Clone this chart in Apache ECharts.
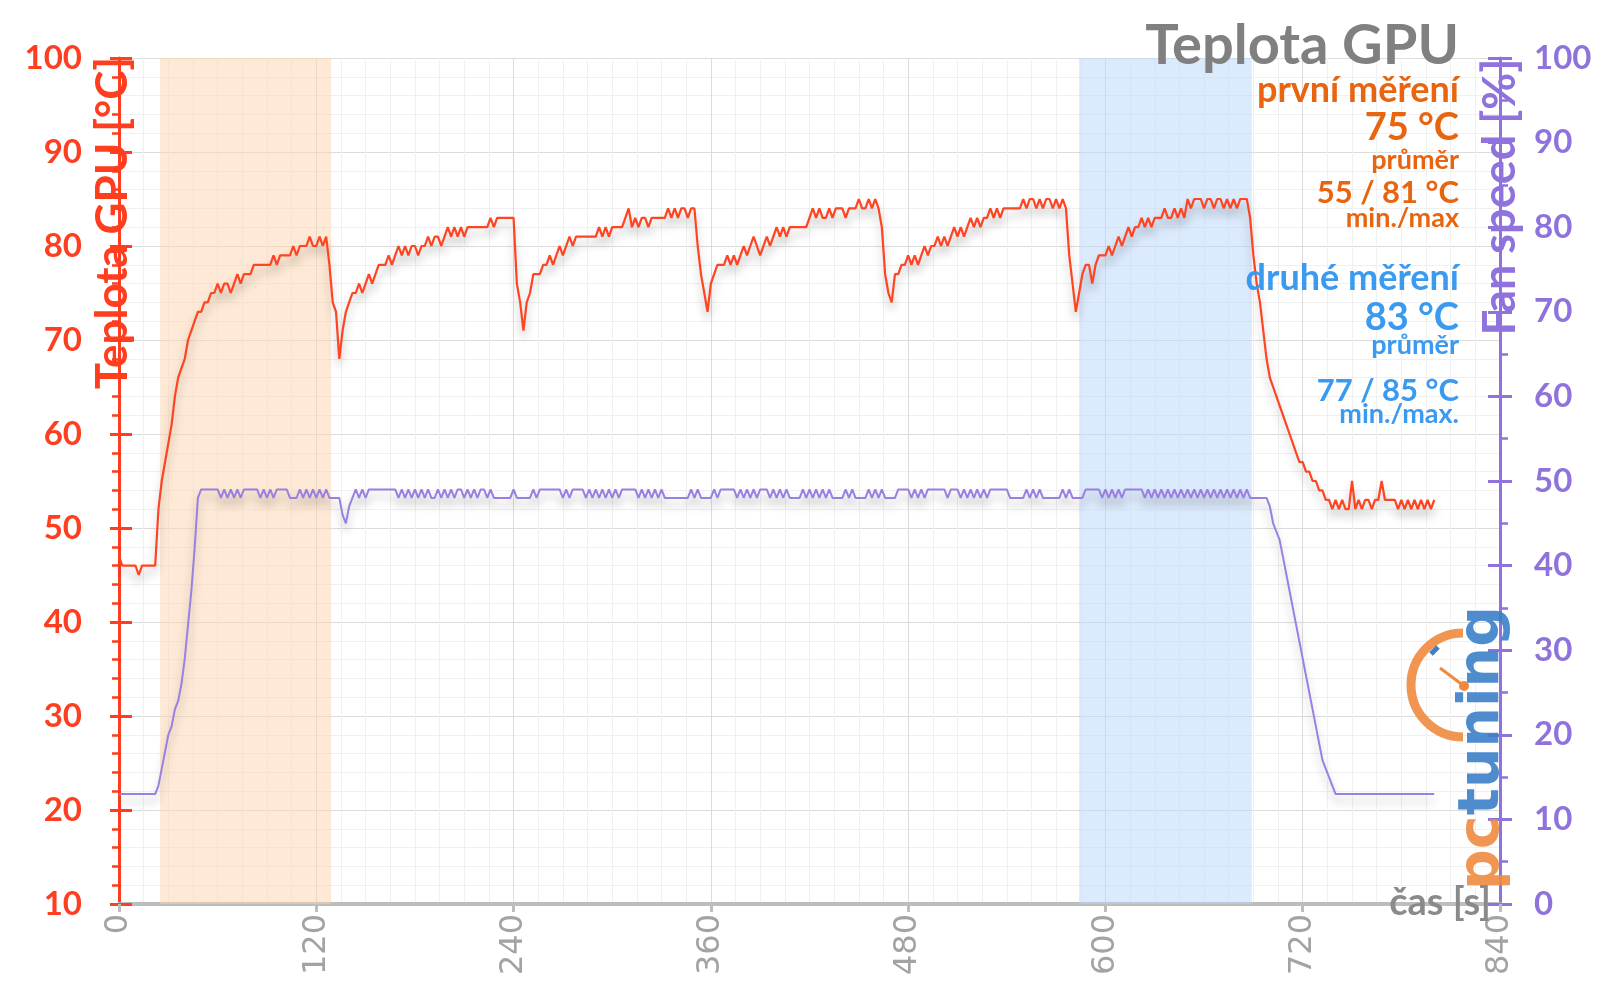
<!DOCTYPE html>
<html><head><meta charset="utf-8">
<script src="https://cdn.jsdelivr.net/npm/echarts@6/dist/echarts.min.js"></script>
<style>html,body{margin:0;padding:0;background:#fff}#c{width:1600px;height:999px}</style>
</head><body><div id="c"></div><script>
// ---- data ----
const sampleStep = 2; // seconds between samples, first sample at t = 0 s
const xTickStep = 120;
const xMax = 840;
// GPU temperature [°C], one value every 2 s (rows of 20 s)
const tempGPU = [
  47,46,46,46,46,46,45,46,46,46,  // 0
  46,46,52,55,57,59,61,64,66,67,  // 20
  68,70,71,72,73,73,74,74,75,75,  // 40
  76,75,76,76,75,76,77,76,77,77,  // 60
  77,78,78,78,78,78,78,79,78,79,  // 80
  79,79,79,80,79,80,80,80,81,80,  // 100
  80,81,80,81,78,74,73,68,71,73,  // 120
  74,75,75,76,75,76,77,76,77,78,  // 140
  78,78,79,78,79,80,79,80,79,80,  // 160
  80,79,80,80,81,80,81,81,80,81,  // 180
  82,81,82,81,82,81,82,82,82,82,  // 200
  82,82,82,83,82,83,83,83,83,83,  // 220
  83,76,74,71,74,75,77,77,77,78,  // 240
  78,79,78,79,80,79,80,81,80,81,  // 260
  81,81,81,81,81,81,82,81,82,81,  // 280
  82,82,82,82,83,84,82,83,82,83,  // 300
  83,82,83,83,83,83,83,84,83,84,  // 320
  83,84,84,83,84,84,80,77,75,73,  // 340
  76,77,78,78,78,79,78,79,78,79,  // 360
  80,79,80,81,80,79,80,81,80,81,  // 380
  82,81,82,81,82,82,82,82,82,82,  // 400
  83,84,83,84,83,83,84,83,84,84,  // 420
  84,83,84,84,84,85,84,84,85,84,  // 440
  85,84,82,77,75,74,77,77,78,78,  // 460
  79,78,79,78,79,80,79,80,80,81,  // 480
  80,81,80,81,82,81,82,81,82,83,  // 500
  82,83,82,83,83,84,83,84,83,84,  // 520
  84,84,84,84,84,85,84,85,85,84,  // 540
  85,84,85,85,84,85,84,85,84,79,  // 560
  76,73,75,77,78,78,76,78,79,79,  // 580
  79,80,79,80,81,80,81,82,81,82,  // 600
  82,83,82,83,82,83,83,83,84,83,  // 620
  83,84,83,84,83,85,84,85,85,85,  // 640
  84,85,85,84,85,85,84,85,84,85,  // 660
  84,85,85,85,83,79,76,74,71,68,  // 680
  66,65,64,63,62,61,60,59,58,57,  // 700
  57,56,56,55,55,54,54,53,53,52,  // 720
  53,52,53,52,52,55,52,53,52,53,  // 740
  53,52,53,53,55,53,53,53,53,52,  // 760
  53,52,53,52,53,52,53,52,53,52,  // 780
  53                              // 800
];
// Fan speed [%], one value every 2 s
const fanSpeed = [
  13,13,13,13,13,13,13,13,13,13,  // 0
  13,13,14,16,18,20,21,23,24,26,  // 20
  29,33,37,42,48,49,49,49,49,49,  // 40
  49,48,49,48,49,48,49,48,49,49,  // 60
  49,49,49,48,49,48,49,48,49,49,  // 80
  49,49,48,48,48,49,48,49,48,49,  // 100
  48,49,48,49,48,48,48,48,46,45,  // 120
  47,48,49,48,49,48,49,49,49,49,  // 140
  49,49,49,49,49,48,49,48,49,48,  // 160
  49,48,49,48,49,48,48,49,48,49,  // 180
  48,49,48,49,49,48,49,48,49,48,  // 200
  49,49,48,49,48,48,48,48,48,48,  // 220
  49,48,48,48,48,48,49,48,49,49,  // 240
  49,49,49,49,49,48,49,48,49,49,  // 260
  49,49,48,49,48,49,48,49,48,49,  // 280
  48,49,48,49,49,49,49,49,48,49,  // 300
  48,49,48,49,48,49,48,48,48,48,  // 320
  48,48,48,48,49,48,49,48,48,48,  // 340
  48,49,48,49,49,49,49,49,48,49,  // 360
  48,49,48,49,48,49,49,49,48,49,  // 380
  48,49,48,49,48,48,48,48,49,48,  // 400
  49,48,49,48,49,48,49,48,48,48,  // 420
  48,49,48,49,48,48,48,48,49,48,  // 440
  49,48,49,48,48,48,48,49,49,49,  // 460
  49,48,49,48,49,48,49,49,49,49,  // 480
  49,49,48,49,49,49,48,49,48,49,  // 500
  48,49,48,49,48,49,49,49,49,49,  // 520
  49,48,48,48,48,48,49,48,49,48,  // 540
  49,48,48,48,48,48,48,49,48,49,  // 560
  48,48,48,48,49,49,49,49,49,48,  // 580
  49,48,49,48,49,48,49,49,49,49,  // 600
  49,49,48,49,48,49,48,49,48,49,  // 620
  48,49,48,49,48,49,48,49,48,49,  // 640
  48,49,48,49,48,49,48,49,48,49,  // 660
  48,49,48,49,48,48,48,48,48,48,  // 680
  47,45,44,43,41,39,37,35,33,31,  // 700
  29,27,25,23,21,19,17,16,15,14,  // 720
  13,13,13,13,13,13,13,13,13,13,  // 740
  13,13,13,13,13,13,13,13,13,13,  // 760
  13,13,13,13,13,13,13,13,13,13,  // 780
  13                              // 800
];
const firstRun = [25, 129];   // s, orange band
const secondRun = [584, 689]; // s, blue band
const titleText = 'Teplota GPU';
const firstLabels = ['první měření', '75 °C', 'průměr', '55 / 81 °C', 'min./max'];
const secondLabels = ['druhé měření', '83 °C', 'průměr', '77 / 85 °C', 'min./max.'];
const leftAxisName = 'Teplota GPU [°C]';
const rightAxisName = 'Fan speed [%]';
const xAxisName = 'čas [s]';

// ---- styles ----
const RED = '#ff3d1f', LINE_RED = '#ff4422', PURPLE = '#8f72dc', LINE_PURPLE = '#9a80e2';
const ORANGE_T = '#e8640e', BLUE_T = '#3a9af0';
const FONT = 'Lato, "Open Sans", sans-serif';

const tempData = tempGPU.map((v, i) => [i * sampleStep, v]);
const fanData = fanSpeed.map((v, i) => [i * sampleStep, v]);

function txt(text, x, y, size, color, align, extra) {
  return Object.assign({
    type: 'text', x: x, y: y, z: 100, silent: true,
    style: {
      text: text, fill: color, font: 'bold ' + size + 'px ' + FONT,
      textAlign: align || 'right', textVerticalAlign: 'middle',
      shadowColor: 'rgba(255,255,255,0.95)', shadowBlur: 6
    }
  }, extra || {});
}

const RX = 1459;
const graphics = [
  txt(titleText, RX, 46, 56, '#808080'),
  txt(firstLabels[0], RX, 90, 36, ORANGE_T),
  txt(firstLabels[1], RX, 128, 38, ORANGE_T),
  txt(firstLabels[2], RX, 160, 27, ORANGE_T),
  txt(firstLabels[3], RX, 193, 31, ORANGE_T),
  txt(firstLabels[4], RX, 218, 27, ORANGE_T),
  txt(secondLabels[0], RX, 278, 36, BLUE_T),
  txt(secondLabels[1], RX, 318, 38, BLUE_T),
  txt(secondLabels[2], RX, 345, 27, BLUE_T),
  txt(secondLabels[3], RX, 391, 31, BLUE_T),
  txt(secondLabels[4], RX, 414, 27, BLUE_T),
  txt(leftAxisName, 113, 223, 44, RED, 'center', { rotation: Math.PI / 2 }),
  txt(rightAxisName, 1500, 197, 45, PURPLE, 'center', { rotation: Math.PI / 2 }),
  txt(xAxisName, 1491, 903, 38, '#8a8a8a', 'right'),
  // pctuning logo
  { type: 'arc', z: 90, silent: true, shape: { cx: 1463, cy: 685, r: 52, startAngle: Math.PI / 2, endAngle: Math.PI * 1.5, clockwise: true },
    style: { stroke: '#f0893f', lineWidth: 9, fill: null, opacity: 0.9 } },
  { type: 'line', z: 91, silent: true, shape: { x1: 1440, y1: 668, x2: 1464, y2: 686 }, style: { stroke: '#f0893f', lineWidth: 3 } },
  { type: 'circle', z: 91, silent: true, shape: { cx: 1464, cy: 686, r: 5 }, style: { fill: '#f0893f' } },
  { type: 'line', z: 92, silent: true, shape: { x1: 1431, y1: 654, x2: 1438, y2: 647 }, style: { stroke: '#3b7fc9', lineWidth: 5 } },
  { type: 'text', z: 92, silent: true, x: 1483, y: 748, rotation: Math.PI / 2,
    style: { text: '{a|pc}{b|tuning}', textAlign: 'center', textVerticalAlign: 'middle', opacity: 0.9,
      rich: { a: { fill: '#f0893f', font: 'bold 57px "DejaVu Sans"' }, b: { fill: '#3b7fc9', font: 'bold 57px "DejaVu Sans"' } } } }
];

const lineShadow = { shadowColor: 'rgba(0,0,0,0.28)', shadowBlur: 10, shadowOffsetY: 7 };

const option = {
  animation: false,
  backgroundColor: '#ffffff',
  grid: { left: 119, right: 100, top: 58, bottom: 95, containLabel: false },
  xAxis: {
    type: 'value', min: 0, max: xMax, interval: xTickStep,
    axisLine: { show: true, onZero: false, lineStyle: { color: '#bdbdbd', width: 4 } },
    axisTick: { show: true, length: 8, lineStyle: { color: '#bdbdbd', width: 3 } },
    minorTick: { show: false, splitNumber: 8 },
    axisLabel: { rotate: 90, color: '#a3a3a3', fontSize: 32, fontFamily: '"DejaVu Sans"', margin: 10 },
    splitLine: { show: true, lineStyle: { color: '#dcdcdc', width: 1 } },
    minorSplitLine: { show: true, lineStyle: { color: '#f0f0f0', width: 1 } }
  },
  yAxis: [
    { type: 'value', position: 'left', min: 10, max: 100, interval: 10,
      axisLine: { show: true, lineStyle: { color: RED, width: 3 } },
      axisTick: { show: true, inside: false, length: 9, lineStyle: { color: RED, width: 3 } },
      minorTick: { show: true, splitNumber: 5, length: 7, lineStyle: { color: RED, width: 2.5 } },
      axisLabel: { color: RED, fontSize: 33, fontWeight: 'bold', fontFamily: FONT, margin: 37 },
      splitLine: { show: true, lineStyle: { color: '#dcdcdc', width: 1 } },
      minorSplitLine: { show: true, lineStyle: { color: '#f0f0f0', width: 1 } } },
    { type: 'value', position: 'right', min: 0, max: 100, interval: 10,
      axisLine: { show: true, lineStyle: { color: PURPLE, width: 3 } },
      axisTick: { show: true, inside: false, length: 12, lineStyle: { color: PURPLE, width: 3 } },
      minorTick: { show: true, splitNumber: 2, length: 8, lineStyle: { color: PURPLE, width: 2.5 } },
      axisLabel: { color: PURPLE, fontSize: 33, fontWeight: 'bold', fontFamily: FONT, margin: 34 },
      splitLine: { show: false } },
    { type: 'value', position: 'left', min: 10, max: 100, interval: 10,
      axisLine: { show: false }, axisLabel: { show: false }, splitLine: { show: false },
      axisTick: { show: true, inside: true, length: 13, lineStyle: { color: RED, width: 3 } } },
    { type: 'value', position: 'right', min: 0, max: 100, interval: 10,
      axisLine: { show: false }, axisLabel: { show: false }, splitLine: { show: false },
      axisTick: { show: true, inside: true, length: 12, lineStyle: { color: PURPLE, width: 3 } } }
  ],
  series: [
    { name: 'Fan speed', type: 'line', yAxisIndex: 1, data: fanData, showSymbol: false, symbol: 'none',
      lineStyle: Object.assign({ color: LINE_PURPLE, width: 2 }, lineShadow), z: 3 },
    { name: 'Teplota GPU', type: 'line', yAxisIndex: 0, data: tempData, showSymbol: false, symbol: 'none',
      lineStyle: Object.assign({ color: LINE_RED, width: 2.2 }, lineShadow), z: 4,
      markArea: { silent: true, data: [
        [{ xAxis: firstRun[0], itemStyle: { color: 'rgba(252,212,172,0.5)' } }, { xAxis: firstRun[1] }],
        [{ xAxis: secondRun[0], itemStyle: { color: 'rgba(184,214,250,0.5)' } }, { xAxis: secondRun[1] }]
      ] } }
  ],
  graphic: graphics
};

const chart = echarts.init(document.getElementById('c'), null, { renderer: 'canvas' });
chart.setOption(option);
</script></body></html>
